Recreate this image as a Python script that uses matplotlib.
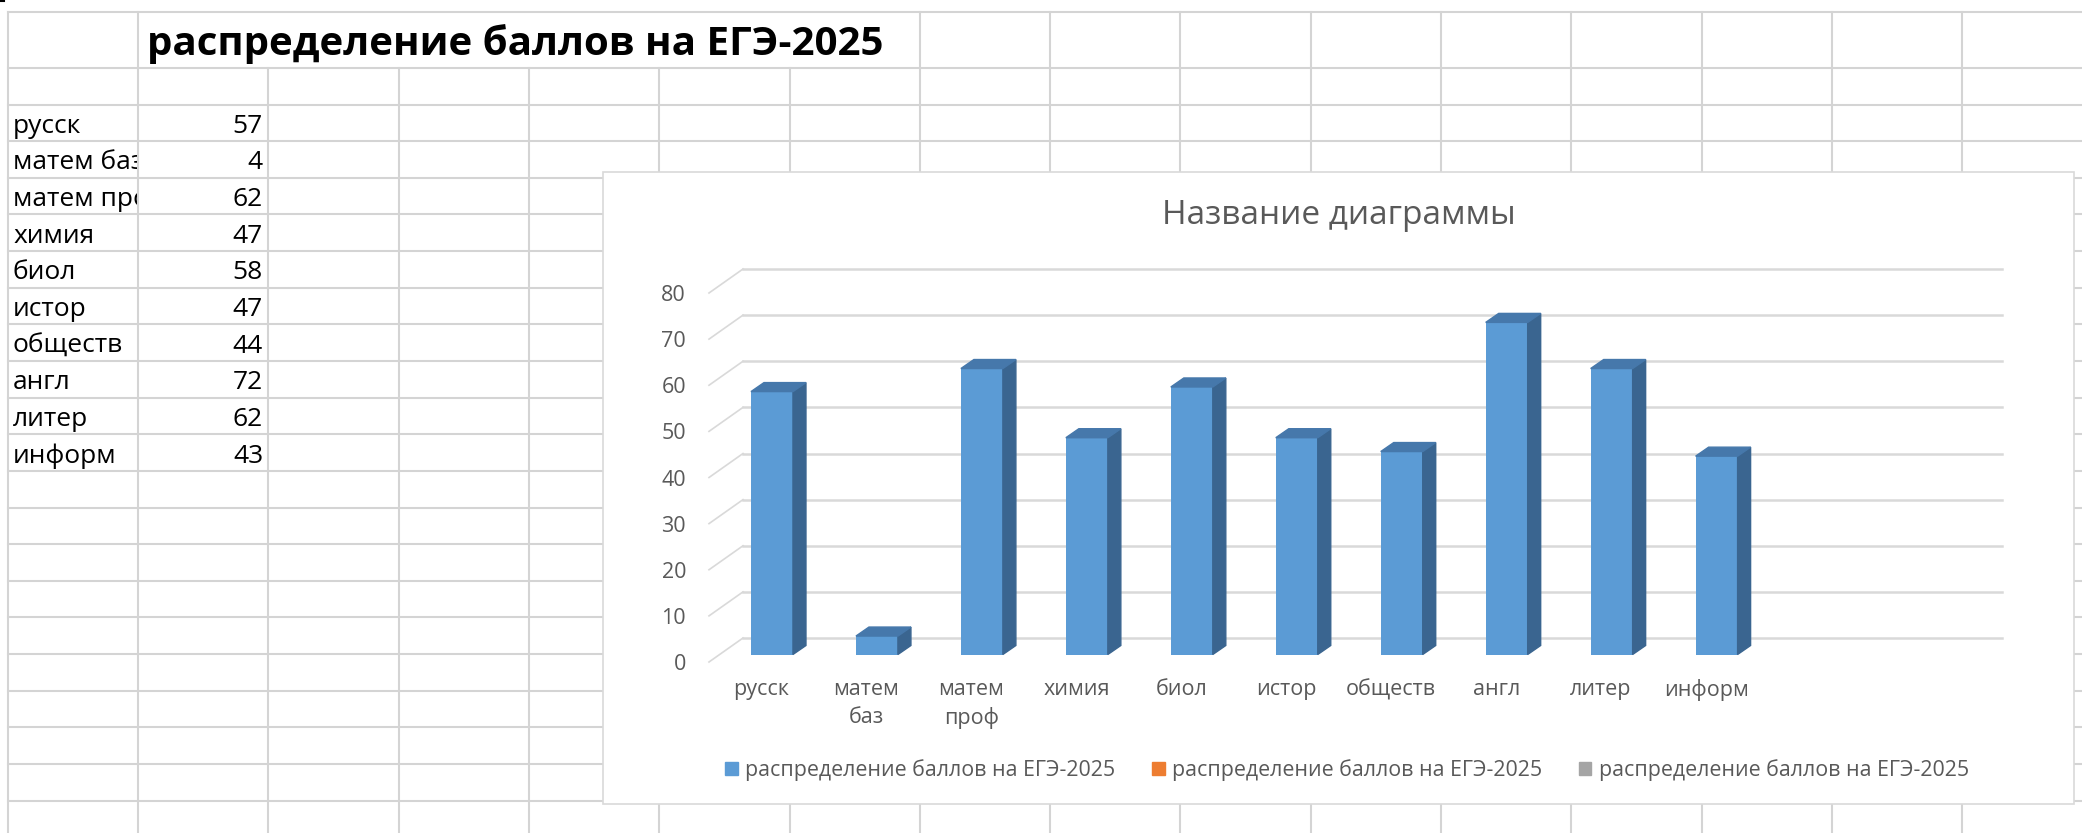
import matplotlib.pyplot as plt
from matplotlib.patches import Rectangle, Polygon, Patch
from matplotlib.transforms import Bbox, TransformedBbox

plt.rcParams['font.family'] = ['Open Sans', 'DejaVu Sans']

# данные из таблицы
subjects = ['русск', 'матем баз', 'матем проф', 'химия', 'биол', 'истор', 'обществ', 'англ', 'литер', 'информ']
scores = [57, 4, 62, 47, 58, 47, 44, 72, 62, 43]
axis_labels = ['русск', 'матем\nбаз', 'матем\nпроф', 'химия', 'биол', 'истор', 'обществ', 'англ', 'литер', 'информ']
y_ticks = [0, 10, 20, 30, 40, 50, 60, 70, 80]
series_names = ['распределение баллов на ЕГЭ-2025'] * 3
series_colors = ['#5B9BD5', '#ED7D31', '#A5A5A5']
sheet_title = 'распределение баллов на ЕГЭ-2025'
chart_title = 'Название диаграммы'

W, H = 2082, 833
fig = plt.figure(figsize=(W / 100, H / 100), dpi=100)

# лист таблицы, координаты в пикселях
sheet = fig.add_axes([0, 0, 1, 1])
sheet.set_xlim(0, W)
sheet.set_ylim(H, 0)
sheet.axis('off')

grid = '#D4D4D4'
col_x = [7.7 + 130.3 * k for k in range(16)]
row_y = [11.7, 67.7] + [104.5 + 36.64 * k for k in range(20)]
for y in row_y:
    sheet.plot([7.7, W], [y, y], color=grid, lw=1.5)
for x in col_x:
    top = 67.7 if 200 < x < 900 else 11.7  # объединённая ячейка заголовка
    sheet.plot([x, x], [top, H], color=grid, lw=1.5)
sheet.plot([0, 4], [1.2, 1.2], color='black', lw=1.5)

sheet.text(147, 55, sheet_title, fontsize=29, fontweight='bold', va='baseline')
cell_a = TransformedBbox(Bbox([[7.7, 0], [137, H]]), sheet.transData)  # обрезка по ячейке A
for k, (name, val) in enumerate(zip(subjects, scores)):
    base = 104.5 + 36.64 * (k + 1) - 8.4
    t = sheet.text(13, base, name, fontsize=19, va='baseline')
    t.set_clip_box(cell_a)
    t.set_clip_on(True)
    sheet.text(263, base, str(val), fontsize=19, ha='right', va='baseline')

# рамка диаграммы
sheet.add_patch(Rectangle((603.3, 172.3), 2074.3 - 603.3, 804 - 172.3,
                          facecolor='white', edgecolor='#D9D9D9', lw=1.2, zorder=5))
sheet.text(1338.5, 224, chart_title, fontsize=24, color='#595959',
           ha='center', va='baseline', zorder=6)

# сама диаграмма (передняя плоскость)
x0, x1 = 709, 1968.5
y0, y1 = 662, 293
n_slots = 12
ax = fig.add_axes([x0 / W, 1 - y0 / H, (x1 - x0) / W, (y0 - y1) / H])
ax.set_zorder(3)
ax.patch.set_alpha(0)
ax.set_xlim(-0.5, n_slots - 0.5)
ax.set_ylim(0, 80)
px_x = (x1 - x0) / n_slots
px_y = (y0 - y1) / 80

# задняя стенка и боковая стенка
fdx, fdy = 34 / px_x, 24 / px_y
for v in y_ticks:
    ax.plot([-0.5 + fdx, n_slots - 0.5 + fdx], [v + fdy, v + fdy], color='#D9D9D9', lw=1.8, clip_on=False, zorder=1)
    ax.plot([-0.5, -0.5 + fdx], [v, v + fdy], color='#D9D9D9', lw=1.2, clip_on=False, zorder=1)

# столбики с объёмом
bdx, bdy = 10.5 / px_x, 7.5 / px_y
ddx, ddy = 13 / px_x, 9 / px_y
pos = list(range(len(scores)))
bars = ax.bar([p + bdx for p in pos], scores, width=0.4, bottom=bdy, color='#5B9BD5', zorder=3)
for b in bars:
    xl, yb, w, h = b.get_x(), b.get_y(), b.get_width(), b.get_height()
    xr, yt = xl + w, yb + h
    ax.add_patch(Polygon([(xr, yb), (xr + ddx, yb + ddy), (xr + ddx, yt + ddy), (xr, yt)],
                         closed=True, color='#3A6590', zorder=3))
    ax.add_patch(Polygon([(xl, yt), (xl + ddx, yt + ddy), (xr + ddx, yt + ddy), (xr, yt)],
                         closed=True, color='#4678AB', zorder=3))

ax.set_yticks(y_ticks)
ax.set_xticks(pos)
ax.set_xticklabels(axis_labels, linespacing=1.45)
ax.tick_params(length=0, colors='#595959')
ax.tick_params(axis='y', pad=16.5, labelsize=15.5)
ax.tick_params(axis='x', pad=12, labelsize=15.5)
for s in ax.spines.values():
    s.set_visible(False)

handles = [Patch(color=c) for c in series_colors]
fig.legend(handles, series_names, loc='center', bbox_to_anchor=(1347 / W, 1 - 770 / H), ncol=3,
           frameon=False, fontsize=15.4, labelcolor='#595959', handlelength=0.6, handleheight=0.6,
           handletextpad=0.35, columnspacing=1.7)

fig.savefig('out.png', dpi=100)
